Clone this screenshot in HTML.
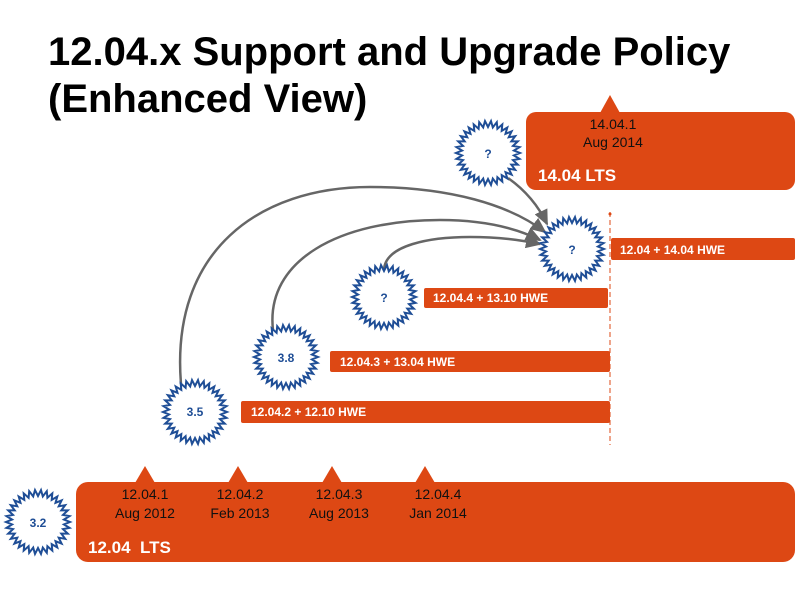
<!DOCTYPE html>
<html><head><meta charset="utf-8"><style>
body{margin:0;background:#fff;width:800px;height:600px;overflow:hidden}
svg{display:block}
</style></head><body>
<svg width="800" height="600" xmlns="http://www.w3.org/2000/svg" font-family="Liberation Sans, sans-serif">
<defs>
<marker id="a2" markerWidth="16" markerHeight="14" refX="14" refY="7" orient="auto" markerUnits="userSpaceOnUse"><path d="M0,0 L16,7 L0,14 z" fill="#666"/></marker></defs>
<text x="48" y="65" font-size="40" font-weight="bold" fill="#000">12.04.x Support and Upgrade Policy</text>
<text x="48" y="112" font-size="40" font-weight="bold" fill="#000">(Enhanced View)</text>

<rect x="526" y="112" width="269" height="78" rx="10" fill="#dd4814"/>
<path d="M600,113 L610,95 L620,113 z" fill="#dd4814"/>
<text x="613" y="129" font-size="14" text-anchor="middle" fill="#111">14.04.1</text>
<text x="613" y="147" font-size="14" text-anchor="middle" fill="#111">Aug 2014</text>
<text x="538" y="181" font-size="17" font-weight="bold" fill="#fff">14.04 LTS</text>

<line x1="610" y1="212" x2="610" y2="445" stroke="#dd4814" stroke-width="1" stroke-dasharray="5,3"/>
<circle cx="610" cy="214" r="1.5" fill="#dd4814"/>

<g font-size="12" font-weight="bold" fill="#fff">
<rect x="611" y="238" width="184" height="22" rx="2" fill="#dd4814"/><text x="620" y="254">12.04 + 14.04 HWE</text>
<rect x="424" y="288" width="184" height="20" rx="2" fill="#dd4814"/><text x="433" y="302">12.04.4 + 13.10 HWE</text>
<rect x="330" y="351" width="280" height="21" rx="2" fill="#dd4814"/><text x="340" y="366">12.04.3 + 13.04 HWE</text>
<rect x="241" y="401" width="369" height="22" rx="2" fill="#dd4814"/><text x="251" y="416">12.04.2 + 12.10 HWE</text>
</g>

<g fill="none" stroke="#666" stroke-width="2.5">
<path d="M181,384 C170,250 260,187 370,187 C450,187 510,205 545,232" marker-end="url(#a2)"/>
<path d="M273,330 C265,260 340,220 440,220 C490,220 520,230 540,240" marker-end="url(#a2)"/>
<path d="M384,270 C385,245 430,237 470,237 C500,237 520,240 540,244" marker-end="url(#a2)"/>
<path d="M508,178 C525,190 538,205 547,224" marker-end="url(#a2)"/>
</g>

<g id="stars" fill="#fff" stroke="#1f4e96" stroke-width="2" stroke-linejoin="miter"></g>
<g font-size="12" font-weight="bold" fill="#1f4e96" text-anchor="middle">
<text x="488" y="158">?</text>
<text x="572" y="254">?</text>
<text x="384" y="302">?</text>
<text x="286" y="362">3.8</text>
<text x="195" y="416">3.5</text>
<text x="38" y="527">3.2</text>
</g>

<rect x="76" y="482" width="719" height="80" rx="12" fill="#dd4814"/>
<g fill="#dd4814">
<path d="M135,483 L145,466 L155,483 z"/><path d="M228,483 L238,466 L248,483 z"/>
<path d="M322,483 L332,466 L342,483 z"/><path d="M415,483 L425,466 L435,483 z"/>
</g>
<g font-size="14" text-anchor="middle" fill="#111">
<text x="145" y="499">12.04.1</text><text x="145" y="518">Aug 2012</text>
<text x="240" y="499">12.04.2</text><text x="240" y="518">Feb 2013</text>
<text x="339" y="499">12.04.3</text><text x="339" y="518">Aug 2013</text>
<text x="438" y="499">12.04.4</text><text x="438" y="518">Jan 2014</text>
</g>
<text x="88" y="553" font-size="17" font-weight="bold" fill="#fff" xml:space="preserve">12.04  LTS</text>
</svg>
<script>
var stars=[[488,153],[572,249],[384,297],[286,357],[195,412],[38,522]];
var g=document.getElementById('stars');
stars.forEach(function(s){var n=34,pts=[];for(var i=0;i<2*n;i++){var r=i%2?26:32,a=Math.PI*i/n;pts.push((s[0]+r*Math.cos(a)).toFixed(1)+','+(s[1]+r*Math.sin(a)).toFixed(1));}
var p=document.createElementNS('http://www.w3.org/2000/svg','polygon');p.setAttribute('points',pts.join(' '));g.appendChild(p);});
</script>
</body></html>
